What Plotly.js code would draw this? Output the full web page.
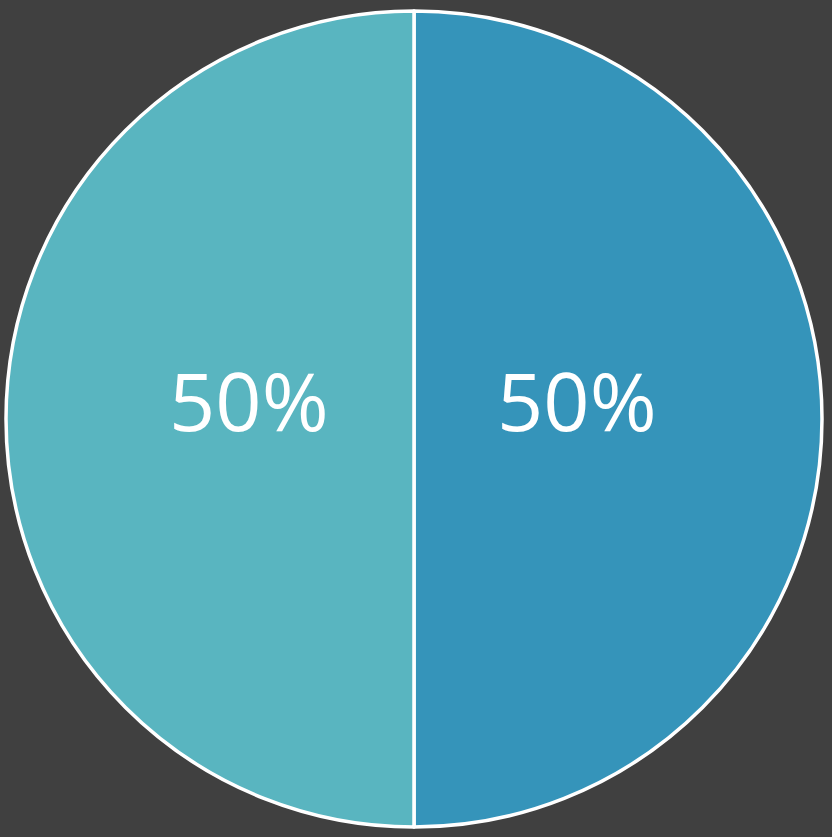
<!DOCTYPE html>
<html>
<head>
<meta charset="utf-8">
<script src="https://cdn.plot.ly/plotly-3.0.1.min.js"></script>
<style>html,body{margin:0;padding:0;background:#404040;}</style>
</head>
<body>
<div id="chart" style="width:832px;height:837px;"></div>
<script>
const labels = ["A", "B"];
const values = [50, 50];
const colors = ["#3594BA", "#59B5C0"];
const labelX = [0.7, 0.298];

const total = values.reduce((a, b) => a + b, 0);
const annotations = values.map((v, i) => ({
  xref: "paper", yref: "paper",
  x: labelX[i], y: 0.5245,
  xanchor: "center", yanchor: "middle",
  text: Math.round(v / total * 100) + "%",
  showarrow: false,
  font: {family: "Open Sans", size: 81, color: "#ffffff"}
}));

Plotly.newPlot("chart", [{
  type: "pie",
  labels: labels,
  values: values,
  sort: false,
  direction: "clockwise",
  rotation: 0,
  textinfo: "none",
  marker: {colors: colors, line: {color: "#ffffff", width: 3.5}},
  hoverinfo: "none"
}], {
  width: 832,
  height: 837,
  margin: {l: 6, r: 10, t: 11, b: 10, pad: 0},
  paper_bgcolor: "#404040",
  plot_bgcolor: "#404040",
  showlegend: false,
  annotations: annotations
}, {displayModeBar: false, staticPlot: true});
</script>
</body>
</html>
